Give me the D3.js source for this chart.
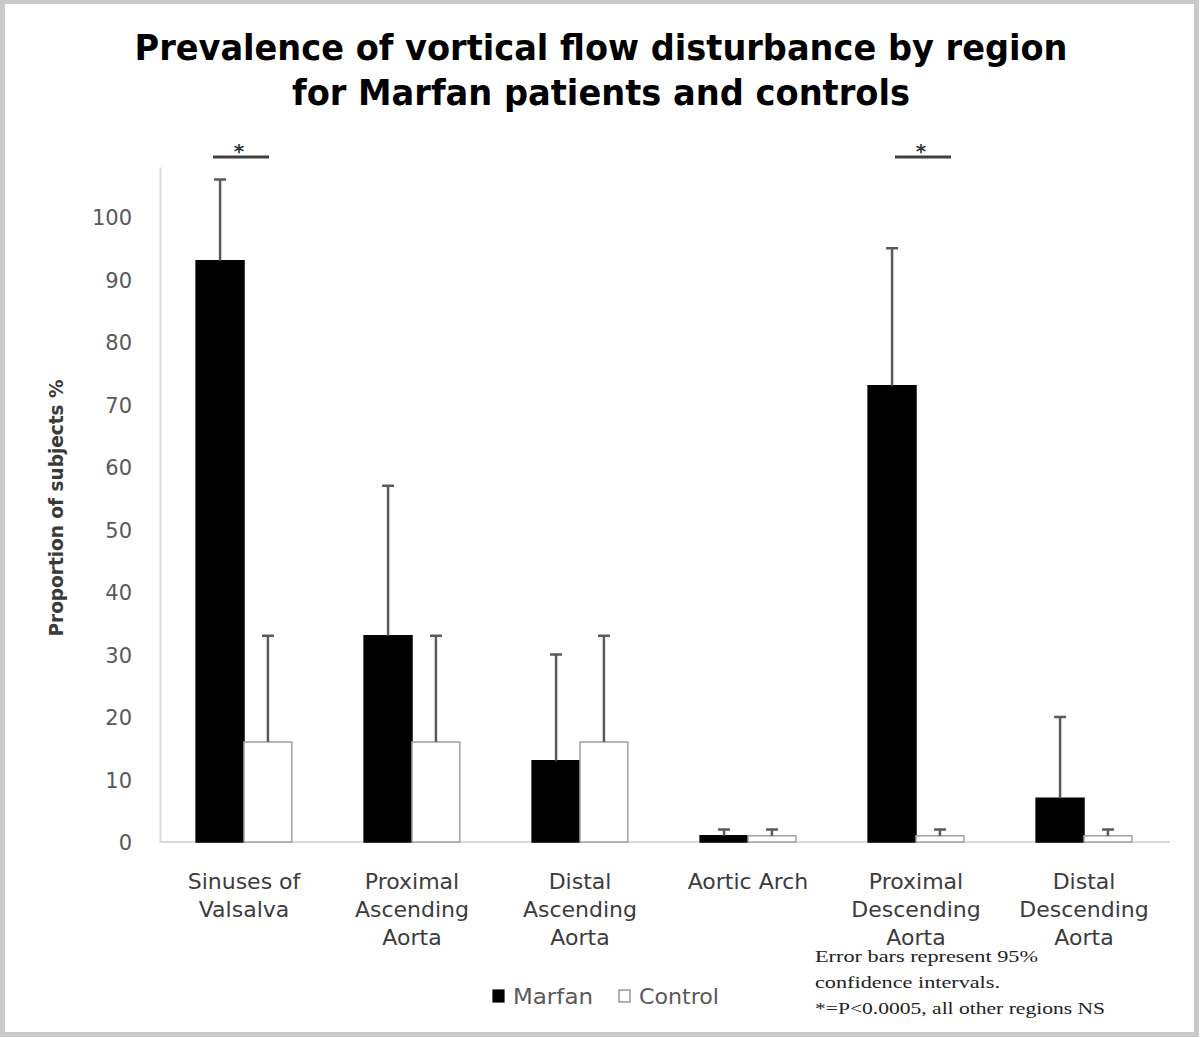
<!DOCTYPE html>
<html>
<head>
<meta charset="utf-8">
<script src="https://cdn.jsdelivr.net/npm/d3@7"></script>
<style>
  body { margin: 0; background: #fff; }
  svg { display: block; }
</style>
</head>
<body>
<div id="chart"></div>
<script>
const width = 1200;
const height = 1038;

const regions = [
    ["Sinuses of", "Valsalva"],
    ["Proximal", "Ascending", "Aorta"],
    ["Distal", "Ascending", "Aorta"],
    ["Aortic Arch"],
    ["Proximal", "Descending", "Aorta"],
    ["Distal", "Descending", "Aorta"]
];
const groups = ["Marfan", "Control"];
const marfan = [93, 33, 13, 1, 73, 7];
const marfanUpper = [106, 57, 30, 2, 95, 20];
const control = [16, 16, 16, 1, 1, 1];
const controlUpper = [33, 33, 33, 2, 2, 2];
const significant = [0, 4];
const yTicks = [0, 10, 20, 30, 40, 50, 60, 70, 80, 90, 100];
const titleLines = ["Prevalence of vortical flow disturbance by region", "for Marfan patients and controls"];
const noteLines = ["Error bars represent 95%", "confidence intervals.", "*=P<0.0005, all other regions NS"];

// small nudges so the significance bars sit where the original put them
const sigShift = [-3, 7];

const svg = d3.select("#chart")
    .append("svg")
    .attr("width", width)
    .attr("height", height);

// frame around the picture
svg.append("rect")
    .attr("x", 2.5).attr("y", 1.5)
    .attr("width", width - 6).attr("height", height - 5)
    .attr("fill", "#fff")
    .attr("stroke", "#c9c9c9")
    .attr("stroke-width", 5);

const x0 = d3.scaleBand()
    .domain(d3.range(regions.length))
    .range([160, 1168])
    .paddingInner(0.43)
    .paddingOuter(0.215);

const x1 = d3.scaleBand()
    .domain(groups)
    .range([0, x0.bandwidth()]);

const y = d3.scaleLinear()
    .domain([0, 108])
    .range([842, 167]);

// title
svg.append("g")
    .selectAll("text")
    .data(titleLines)
    .join("text")
    .attr("x", 601)
    .attr("y", (d, i) => 60 + i * 45)
    .attr("text-anchor", "middle")
    .attr("font-family", "DejaVu Sans, Verdana, sans-serif")
    .attr("font-weight", "bold")
    .attr("font-size", 36)
    .attr("textLength", (d, i) => i === 0 ? 933 : 618)
    .attr("lengthAdjust", "spacingAndGlyphs")
    .text(d => d);

// y axis
const yAxis = svg.append("g")
    .attr("transform", `translate(160,0)`)
    .call(d3.axisLeft(y).tickValues(yTicks).tickSize(0).tickPadding(28));
yAxis.select(".domain").attr("stroke", "#d9d9d9").attr("stroke-width", 2);
yAxis.selectAll("text")
    .attr("font-family", "DejaVu Sans, Verdana, sans-serif")
    .attr("font-size", 21)
    .attr("fill", "#595959")
    .attr("dy", "0.36em");

svg.append("text")
    .attr("transform", `translate(63,508) rotate(-90)`)
    .attr("text-anchor", "middle")
    .attr("font-family", "DejaVu Sans, Verdana, sans-serif")
    .attr("font-weight", "bold")
    .attr("font-size", 19)
    .attr("fill", "#3a3a3a")
    .attr("textLength", 257)
    .attr("lengthAdjust", "spacingAndGlyphs")
    .text("Proportion of subjects %");

// x baseline
svg.append("line")
    .attr("x1", 160).attr("x2", 1170)
    .attr("y1", y(0)).attr("y2", y(0))
    .attr("stroke", "#d9d9d9")
    .attr("stroke-width", 2);

const rows = regions.map((r, i) => [
    { i, key: "Marfan", value: marfan[i], upper: marfanUpper[i] },
    { i, key: "Control", value: control[i], upper: controlUpper[i] }
]);

const group = svg.append("g")
    .selectAll("g")
    .data(rows)
    .join("g")
    .attr("transform", (d, i) => `translate(${x0(i)},0)`);

group.selectAll("rect")
    .data(d => d)
    .join("rect")
    .attr("x", d => x1(d.key))
    .attr("y", d => y(d.value))
    .attr("width", x1.bandwidth())
    .attr("height", d => y(0) - y(d.value))
    .attr("fill", d => d.key === "Marfan" ? "#000" : "#fff")
    .attr("stroke", d => d.key === "Marfan" ? "#000" : "#a0a0a0")
    .attr("stroke-width", 1.5);

// upper error bars
const err = group.selectAll("g.err")
    .data(d => d)
    .join("g")
    .attr("class", "err")
    .attr("stroke", "#5a5a5a")
    .attr("stroke-width", 2.5);
err.append("line")
    .attr("x1", d => x1(d.key) + x1.bandwidth() / 2)
    .attr("x2", d => x1(d.key) + x1.bandwidth() / 2)
    .attr("y1", d => y(d.value))
    .attr("y2", d => y(d.upper));
err.append("line")
    .attr("x1", d => x1(d.key) + x1.bandwidth() / 2 - 6)
    .attr("x2", d => x1(d.key) + x1.bandwidth() / 2 + 6)
    .attr("y1", d => y(d.upper))
    .attr("y2", d => y(d.upper));

// category labels
svg.append("g")
    .selectAll("text")
    .data(regions)
    .join("text")
    .attr("x", (d, i) => x0(i) + x0.bandwidth() / 2)
    .attr("y", 889)
    .attr("text-anchor", "middle")
    .attr("font-family", "DejaVu Sans, Verdana, sans-serif")
    .attr("font-size", 22)
    .attr("fill", "#3c3c3c")
    .selectAll("tspan")
    .data(d => d)
    .join("tspan")
    .attr("x", function () { return d3.select(this.parentNode).attr("x"); })
    .attr("dy", (d, i) => i === 0 ? 0 : 28)
    .text(d => d);

// significance markers
const sig = svg.append("g")
    .selectAll("g")
    .data(significant)
    .join("g")
    .attr("transform", (d, k) => `translate(${x0(d) + x0.bandwidth() / 2 + sigShift[k]},0)`);
sig.append("line")
    .attr("x1", -28).attr("x2", 28)
    .attr("y1", 157).attr("y2", 157)
    .attr("stroke", "#404040")
    .attr("stroke-width", 3);
sig.append("text")
    .attr("x", -2)
    .attr("y", 158)
    .attr("text-anchor", "middle")
    .attr("font-family", "DejaVu Sans, sans-serif")
    .attr("font-weight", "bold")
    .attr("font-size", 20)
    .attr("fill", "#333")
    .text("*");

// legend
const legend = svg.append("g")
    .selectAll("g")
    .data(groups)
    .join("g")
    .attr("transform", (d, i) => `translate(${493 + i * 126},990)`);
legend.append("rect")
    .attr("width", 11).attr("height", 12)
    .attr("fill", d => d === "Marfan" ? "#000" : "#fff")
    .attr("stroke", d => d === "Marfan" ? "#000" : "#7f7f7f")
    .attr("stroke-width", 1.2);
legend.append("text")
    .attr("x", 20)
    .attr("y", 14)
    .attr("font-family", "DejaVu Sans, Verdana, sans-serif")
    .attr("font-size", 21)
    .attr("fill", "#595959")
    .attr("textLength", 80)
    .attr("lengthAdjust", "spacingAndGlyphs")
    .text(d => d);

// note
svg.append("g")
    .selectAll("text")
    .data(noteLines)
    .join("text")
    .attr("x", 815)
    .attr("y", (d, i) => 962 + i * 26)
    .attr("font-family", "Liberation Serif, serif")
    .attr("font-size", 16)
    .attr("fill", "#222")
    .attr("textLength", (d, i) => [223, 185, 290][i])
    .attr("lengthAdjust", "spacingAndGlyphs")
    .text(d => d);
</script>
</body>
</html>
